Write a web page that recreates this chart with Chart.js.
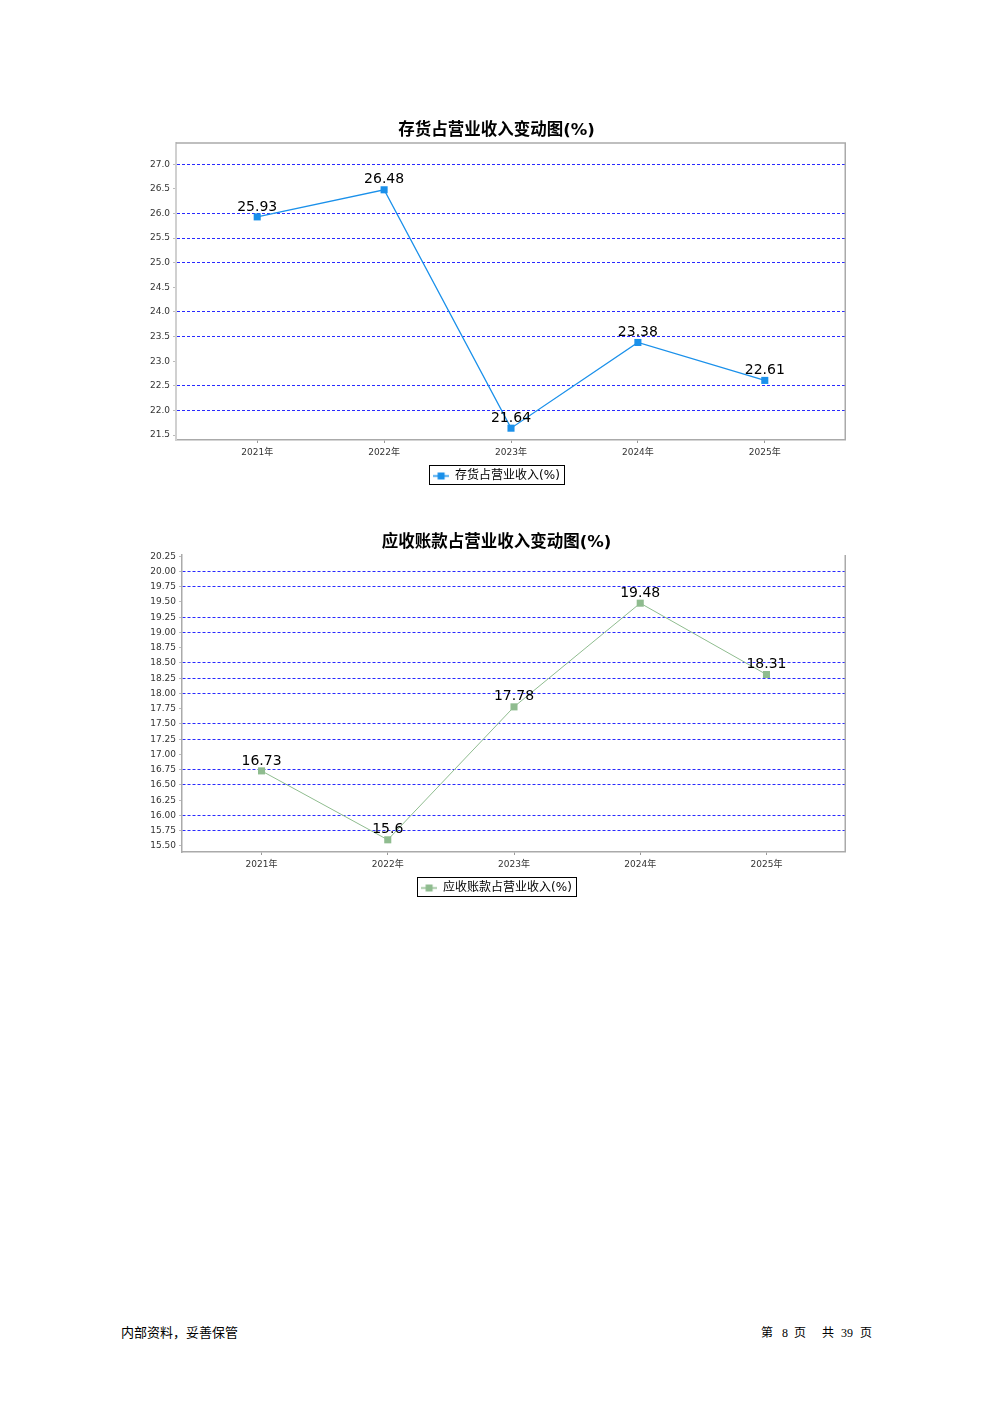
<!DOCTYPE html>
<html>
<head>
<meta charset="utf-8">
<script src="https://cdn.jsdelivr.net/npm/chart.js@4/dist/chart.umd.min.js"></script>
<style>
    body { margin: 0; background: #fff; width: 992px; height: 1403px; position: relative; font-family: "DejaVu Sans", "Noto Sans CJK SC", sans-serif; }
    .chart-box { position: absolute; left: 147px; width: 699px; height: 382px; }
    #box-inventory { top: 110px; }
    #box-receivable { top: 522px; }
    .footer { position: absolute; top: 1323px; color: #000; font-family: "Noto Sans CJK SC", sans-serif; white-space: nowrap; }
    .footer .num { font-family: "Liberation Serif", serif; }
    .footer span { margin-left: 7px; }
</style>
</head>
<body>
<div class="chart-box" id="box-inventory"><canvas id="chart-inventory"></canvas></div>
<div class="chart-box" id="box-receivable"><canvas id="chart-receivable"></canvas></div>
<div class="footer" style="left:121px; top:1322px; font-size:13px;">内部资料，妥善保管</div>
<div class="footer" style="left:761px; font-size:12px;">第<span class="num" style="margin-left:9px;">8</span><span style="margin-left:6px;">页</span><span style="margin-left:16px;">共</span><span class="num">39</span><span>页</span></div>

<script>
const years = ["2021年", "2022年", "2023年", "2024年", "2025年"];

// 存货占营业收入(%)
const inventoryValues = [25.93, 26.48, 21.64, 23.38, 22.61];
const inventoryTicks = [21.5, 22.0, 22.5, 23.0, 23.5, 24.0, 24.5, 25.0, 25.5, 26.0, 26.5, 27.0];
const inventoryGridTicks = [22.0, 22.5, 23.5, 24.0, 25.0, 25.5, 26.0, 27.0];

// 应收账款占营业收入(%)
const receivableValues = [16.73, 15.6, 17.78, 19.48, 18.31];
const receivableTicks = [15.5, 15.75, 16.0, 16.25, 16.5, 16.75, 17.0, 17.25, 17.5, 17.75, 18.0, 18.25, 18.5, 18.75, 19.0, 19.25, 19.5, 19.75, 20.0, 20.25];
const receivableGridTicks = [15.75, 16.0, 16.5, 16.75, 17.25, 17.5, 18.0, 18.25, 18.5, 19.0, 19.25, 19.75, 20.0];

const fontFamily = "'DejaVu Sans', 'Noto Sans CJK SC', sans-serif";
Chart.defaults.font.family = fontFamily;
Chart.defaults.color = "#333";

// draws the value above each point
const valueLabels = {
    id: "valueLabels",
    afterDatasetsDraw(chart) {
        const ctx = chart.ctx;
        ctx.save();
        ctx.font = "14px " + fontFamily;
        ctx.fillStyle = "#000";
        ctx.textAlign = "center";
        ctx.textBaseline = "middle";
        chart.getDatasetMeta(0).data.forEach(function(point, i) {
            let value = chart.data.datasets[0].data[i].y;
            ctx.fillText(String(value), point.x, point.y - 10);
        });
        ctx.restore();
    }
};

// right / top edge of the plot and the box round the legend
const plotFrame = {
    id: "plotFrame",
    afterDraw(chart, args, opts) {
        const ctx = chart.ctx;
        const area = chart.chartArea;
        ctx.save();
        ctx.strokeStyle = "#aaa";
        ctx.lineWidth = 1.5;
        ctx.beginPath();
        ctx.moveTo(area.right - 0.75, area.top);
        ctx.lineTo(area.right - 0.75, area.bottom);
        if (opts.top) {
            ctx.moveTo(area.left, area.top);
            ctx.lineTo(area.right, area.top);
        }
        ctx.stroke();

        let hb = chart.legend.legendHitBoxes[0];
        if (hb) {
            ctx.strokeStyle = "#000";
            ctx.lineWidth = 1;
            ctx.strokeRect(Math.round(hb.left - 4) + 0.5, Math.round(hb.top - 5) + 0.5, Math.round(hb.width + 8), Math.round(hb.height + 7));
        }
        ctx.restore();
    }
};

function makeLegendSymbol(color) {
    let c = document.createElement("canvas");
    c.width = 16;
    c.height = 9;
    let ctx = c.getContext("2d");
    ctx.strokeStyle = color;
    ctx.lineWidth = 1.5;
    ctx.beginPath();
    ctx.moveTo(0, 4.5);
    ctx.lineTo(16, 4.5);
    ctx.stroke();
    ctx.fillStyle = color;
    ctx.fillRect(4.5, 1, 7, 7);
    return c;
}

function isGridTick(list, value) {
    return list.some(function(v) { return Math.abs(v - value) < 1e-6; });
}

function createChart(canvasId, opts) {
    let ctx = document.getElementById(canvasId).getContext("2d");
    return new Chart(ctx, {
        type: "line",
        data: {
            datasets: [{
                label: opts.label,
                data: opts.values.map(function(v, i) { return { x: i, y: v }; }),
                borderColor: opts.color,
                backgroundColor: opts.color,
                borderWidth: opts.lineWidth,
                pointStyle: "rect",
                pointRadius: 5,
                pointBorderWidth: 0,
                tension: 0
            }]
        },
        options: {
            responsive: true,
            maintainAspectRatio: false,
            animation: false,
            layout: { padding: 0, autoPadding: false },
            scales: {
                x: {
                    type: "linear",
                    min: opts.xMin,
                    max: opts.xMax,
                    afterBuildTicks: function(scale) {
                        scale.ticks = years.map(function(y, i) { return { value: i }; });
                    },
                    afterFit: function(scale) {
                        scale.height = 21;
                        scale.paddingLeft = 0;
                        scale.paddingRight = 0;
                    },
                    ticks: {
                        autoSkip: false,
                        maxRotation: 0,
                        padding: 4,
                        font: { size: 9 },
                        color: "#333",
                        callback: function(value) { return years[value]; }
                    },
                    grid: { drawOnChartArea: false, drawTicks: true, tickLength: 3, tickColor: "#999" },
                    border: { color: "#aaa", width: 1.5 }
                },
                y: {
                    min: opts.yMin,
                    max: opts.yMax,
                    afterBuildTicks: function(scale) {
                        scale.ticks = opts.ticks.map(function(v) { return { value: v }; });
                    },
                    afterFit: function(scale) {
                        scale.width = opts.yWidth;
                        scale.paddingTop = 0;
                        scale.paddingBottom = 0;
                    },
                    ticks: {
                        autoSkip: false,
                        padding: 3,
                        font: { size: 9 },
                        color: "#333",
                        callback: function(value) { return value.toFixed(opts.decimals); }
                    },
                    grid: {
                        color: function(c) {
                            return isGridTick(opts.gridTicks, c.tick.value) ? "#2a2aff" : "rgba(0,0,0,0)";
                        },
                        tickColor: "#bbb",
                        tickLength: 3,
                        lineWidth: 1
                    },
                    border: { color: opts.axisColor, width: opts.axisWidth, dash: [3, 2], dashOffset: 0 }
                }
            },
            plugins: {
                title: {
                    display: true,
                    text: opts.title,
                    color: "#000",
                    font: { size: 16.5, weight: "bold" },
                    padding: { top: 11, bottom: opts.titleGap }
                },
                legend: {
                    position: "bottom",
                    labels: {
                        usePointStyle: true,
                        pointStyle: makeLegendSymbol(opts.color),
                        pointStyleWidth: 16,
                        color: "#000",
                        font: { size: 12 },
                        padding: 9
                    }
                },
                tooltip: { enabled: false },
                plotFrame: { top: opts.frameTop }
            }
        },
        plugins: [valueLabels, plotFrame]
    });
}

createChart("chart-inventory", {
    label: "存货占营业收入(%)",
    title: "存货占营业收入变动图(%)",
    values: inventoryValues,
    ticks: inventoryTicks,
    gridTicks: inventoryGridTicks,
    color: "#1a90ea",
    lineWidth: 1.3,
    yMin: 21.4,
    yMax: 27.43,
    xMin: -0.64,
    xMax: 4.64,
    yWidth: 29,
    decimals: 1,
    axisColor: "#d0d0d0",
    axisWidth: 2,
    titleGap: 2.2,
    frameTop: true
});

createChart("chart-receivable", {
    label: "应收账款占营业收入(%)",
    title: "应收账款占营业收入变动图(%)",
    values: receivableValues,
    ticks: receivableTicks,
    gridTicks: receivableGridTicks,
    color: "#8fbc8f",
    lineWidth: 1,
    yMin: 15.4,
    yMax: 20.27,
    xMin: -0.63,
    xMax: 4.63,
    yWidth: 35,
    decimals: 2,
    axisColor: "#aaa",
    axisWidth: 1.5,
    titleGap: 2.2,
    frameTop: false
});
</script>
</body>
</html>
